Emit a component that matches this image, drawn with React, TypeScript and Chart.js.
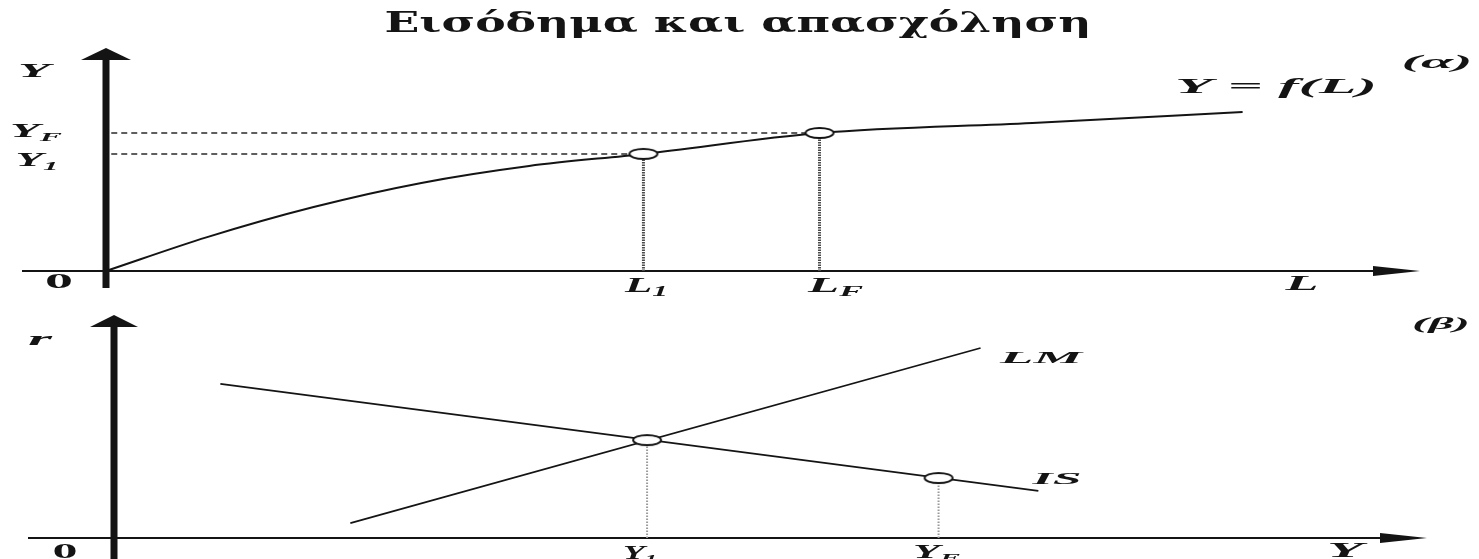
import React, { useEffect, useRef } from 'react';
import { Chart, registerables } from 'chart.js';

Chart.register(...registerables);

const CANVAS_W = 1479;
const TOP_H = 300;
const BOTTOM_H = 259;

// ---- Panel (α): production function Y = f(L) ----
const labourL = [0, 7.7, 15.8, 24.0, 32.2, 40.9, 54.3, 70.5, 86.5];
const outputY = [0, 15.2, 28.7, 39.5, 47.1, 52.5, 61.9, 66.4, 71.3];
const markerL = [40.9, 54.3]; // L1, LF
const markerY = [52.5, 61.9]; // Y1, YF
const topSubs = ['1', 'F'];

// ---- Panel (β): IS-LM ----
const isY = [8.1, 70.4];
const isR = [69.1, 21.1];
const lmY = [18.0, 66.0];
const lmR = [6.7, 85.2];
const pointY = [40.6, 62.8]; // Y1 (equilibrium), YF on IS
const pointR = [43.9, 26.9];
const bottomSubs = ['1', 'F'];

const AXIS_MAX = 100;
const INK = '#141414';

type Lbl = {
  t: string;
  sub?: string;
  cx: number;
  cy: number;
  size: number;
  w: number;
  italic?: boolean;
  bold?: boolean;
  family?: string;
};

function drawLbl(ctx: CanvasRenderingContext2D, l: Lbl) {
  const style = `${l.italic === false ? '' : 'italic '}${l.bold === false ? '' : 'bold '}`;
  const fam = l.family || '"Liberation Serif"';
  const mainFont = `${style}${l.size}px ${fam}`;
  const subFont = `${style}${Math.round(l.size * 0.68)}px ${fam}`;
  ctx.font = mainFont;
  const mw = ctx.measureText(l.t).width;
  let sw = 0;
  if (l.sub) {
    ctx.font = subFont;
    sw = ctx.measureText(l.sub).width;
  }
  const sx = l.w / (mw + sw);
  ctx.save();
  ctx.translate(l.cx - l.w / 2, l.cy + l.size * 0.33);
  ctx.scale(sx, 1);
  ctx.fillStyle = INK;
  ctx.textAlign = 'left';
  ctx.textBaseline = 'alphabetic';
  ctx.font = mainFont;
  ctx.fillText(l.t, 0, 0);
  if (l.sub) {
    ctx.font = subFont;
    ctx.fillText(l.sub, mw, l.size * 0.22);
  }
  ctx.restore();
}

function makeEllipse(w: number, h: number) {
  const c = document.createElement('canvas');
  c.width = w + 4;
  c.height = h + 4;
  const g = c.getContext('2d')!;
  g.beginPath();
  g.ellipse(c.width / 2, c.height / 2, w / 2, h / 2, 0, 0, Math.PI * 2);
  g.fillStyle = '#fff';
  g.fill();
  g.lineWidth = 1.9;
  g.strokeStyle = INK;
  g.stroke();
  return c;
}

type AxisSpec = {
  xStart: number;
  arrowBaseX: number;
  xLineW: number;
  stemW: number;
  stemBottom: number;
  headHalfW: number;
  headH: number;
  xHeadHalfH: number;
};

function drawAxes(chart: any, a: AxisSpec) {
  const ctx: CanvasRenderingContext2D = chart.ctx;
  const xs = chart.scales.x;
  const ys = chart.scales.y;
  const x0 = xs.getPixelForValue(0);
  const y0 = ys.getPixelForValue(0);
  const xEnd = xs.getPixelForValue(AXIS_MAX);
  const yTop = ys.getPixelForValue(AXIS_MAX);
  ctx.save();
  ctx.fillStyle = INK;
  ctx.strokeStyle = INK;
  // horizontal axis
  ctx.lineWidth = a.xLineW;
  ctx.beginPath();
  ctx.moveTo(a.xStart, y0);
  ctx.lineTo(a.arrowBaseX + 2, y0);
  ctx.stroke();
  ctx.beginPath();
  ctx.moveTo(a.arrowBaseX, y0 - a.xHeadHalfH);
  ctx.lineTo(xEnd, y0);
  ctx.lineTo(a.arrowBaseX, y0 + a.xHeadHalfH);
  ctx.closePath();
  ctx.fill();
  // vertical axis (thick stem + arrow head)
  ctx.fillRect(x0 - a.stemW / 2, yTop + a.headH - 1, a.stemW, a.stemBottom - (yTop + a.headH - 1));
  ctx.beginPath();
  ctx.moveTo(x0 - a.headHalfW, yTop + a.headH);
  ctx.lineTo(x0, yTop);
  ctx.lineTo(x0 + a.headHalfW, yTop + a.headH);
  ctx.closePath();
  ctx.fill();
  ctx.restore();
}

const baseOptions = (pad: any) => ({
  responsive: false,
  animation: false as const,
  devicePixelRatio: 1,
  layout: { padding: pad },
  scales: {
    x: { type: 'linear' as const, min: 0, max: AXIS_MAX, display: false },
    y: { type: 'linear' as const, min: 0, max: AXIS_MAX, display: false },
  },
  plugins: {
    legend: { display: false },
    tooltip: { enabled: false },
    title: { display: false },
  },
  elements: { line: { tension: 0 } },
});

export default function App() {
  const topRef = useRef<HTMLCanvasElement | null>(null);
  const botRef = useRef<HTMLCanvasElement | null>(null);

  useEffect(() => {
    const marker = makeEllipse(28, 10);

    // ---------- top chart ----------
    const topAxes = {
      id: 'topAxes',
      beforeDatasetsDraw(chart: any) {
        drawAxes(chart, {
          xStart: 22,
          arrowBaseX: 1373,
          xLineW: 2.2,
          stemW: 7,
          stemBottom: 288,
          headHalfW: 25,
          headH: 12,
          xHeadHalfH: 5,
        });
      },
      afterDatasetsDraw(chart: any) {
        const ctx = chart.ctx;
        const xs = chart.scales.x;
        const ys = chart.scales.y;
        const y0 = ys.getPixelForValue(0);
        // title
        drawLbl(ctx, {
          t: 'Εισόδημα και απασχόληση',
          cx: 738,
          cy: 23,
          size: 28,
          w: 707,
          italic: false,
          family: '"DejaVu Serif"',
        });
        const labels: Lbl[] = [
          { t: 'Y', cx: 34, cy: 71, size: 18, w: 32 },
          { t: 'Y', sub: topSubs[1], cx: 36, cy: ys.getPixelForValue(markerY[1]) - 2, size: 19, w: 52 },
          { t: 'Y', sub: topSubs[0], cx: 37, cy: ys.getPixelForValue(markerY[0]) + 6, size: 19, w: 43 },
          { t: '0', cx: 59, cy: y0 + 10, size: 22, w: 28, italic: false },
          { t: 'L', sub: topSubs[0], cx: xs.getPixelForValue(markerL[0]) + 3, cy: y0 + 14, size: 20, w: 43 },
          { t: 'L', sub: topSubs[1], cx: xs.getPixelForValue(markerL[1]) + 16, cy: y0 + 14, size: 20, w: 55 },
          { t: 'L', cx: 1302, cy: y0 + 12, size: 20, w: 33 },
          { t: 'Y = f(L)', cx: 1276, cy: 86, size: 20, w: 202 },
          { t: '(α)', cx: 1437, cy: 62, size: 18, w: 71 },
        ];
        labels.forEach((l) => drawLbl(ctx, l));
      },
    };

    const topChart = new Chart(topRef.current!, {
      type: 'scatter',
      data: {
        datasets: [
          {
            data: markerL.map((x, i) => ({ x, y: markerY[i] })),
            pointStyle: marker as any,
            pointRadius: 6,
            showLine: false,
            clip: false as any,
          },
          {
            data: labourL.map((x, i) => ({ x, y: outputY[i] })),
            showLine: true,
            borderColor: INK,
            borderWidth: 2,
            pointRadius: 0,
            cubicInterpolationMode: 'monotone' as const,
            clip: false as any,
          },
          ...markerL.map((x, i) => ({
            data: [
              { x: 0.4, y: markerY[i] },
              { x, y: markerY[i] },
            ],
            showLine: true,
            borderColor: '#2a2a2a',
            borderWidth: 1.4,
            borderDash: [6, 4],
            pointRadius: 0,
          })),
          ...markerL.map((x, i) => ({
            data: [
              { x, y: 0 },
              { x, y: markerY[i] - 2.2 },
            ],
            showLine: true,
            borderColor: '#4a4a4a',
            borderWidth: 3,
            borderDash: [1.5, 1],
            pointRadius: 0,
          })),
        ],
      },
      options: baseOptions({ left: 106, right: CANVAS_W - 1420, top: 48, bottom: TOP_H - 271 }) as any,
      plugins: [topAxes],
    });

    // ---------- bottom chart ----------
    const botAxes = {
      id: 'botAxes',
      beforeDatasetsDraw(chart: any) {
        drawAxes(chart, {
          xStart: 28,
          arrowBaseX: 1380,
          xLineW: 2.2,
          stemW: 7,
          stemBottom: BOTTOM_H,
          headHalfW: 24,
          headH: 12,
          xHeadHalfH: 5,
        });
      },
      afterDatasetsDraw(chart: any) {
        const ctx = chart.ctx;
        const xs = chart.scales.x;
        const ys = chart.scales.y;
        const y0 = ys.getPixelForValue(0);
        const labels: Lbl[] = [
          { t: 'r', cx: 40, cy: 39, size: 18, w: 24 },
          { t: '0', cx: 65, cy: y0 + 13, size: 20, w: 25, italic: false },
          { t: 'Y', sub: bottomSubs[0], cx: xs.getPixelForValue(pointY[0]) - 7, cy: y0 + 15, size: 19, w: 34 },
          { t: 'Y', sub: bottomSubs[1], cx: xs.getPixelForValue(pointY[1]) - 2, cy: y0 + 14, size: 19, w: 47 },
          { t: 'LM', cx: 1041, cy: 57, size: 17, w: 82 },
          { t: 'IS', cx: 1057, cy: 178, size: 17, w: 49 },
          { t: 'Y', cx: 1345, cy: y0 + 12, size: 20, w: 36 },
          { t: '(β)', cx: 1441, cy: 23, size: 17, w: 58 },
        ];
        labels.forEach((l) => drawLbl(ctx, l));
      },
    };

    const botChart = new Chart(botRef.current!, {
      type: 'scatter',
      data: {
        datasets: [
          {
            data: pointY.map((x, i) => ({ x, y: pointR[i] })),
            pointStyle: marker as any,
            pointRadius: 6,
            showLine: false,
            clip: false as any,
          },
          {
            data: isY.map((x, i) => ({ x, y: isR[i] })),
            showLine: true,
            borderColor: INK,
            borderWidth: 1.8,
            pointRadius: 0,
          },
          {
            data: lmY.map((x, i) => ({ x, y: lmR[i] })),
            showLine: true,
            borderColor: INK,
            borderWidth: 1.8,
            pointRadius: 0,
          },
          ...pointY.map((x, i) => ({
            data: [
              { x, y: 0 },
              { x, y: pointR[i] - 2.5 },
            ],
            showLine: true,
            borderColor: '#9a9a9a',
            borderWidth: 2,
            borderDash: [1.5, 1.5],
            pointRadius: 0,
          })),
        ],
      },
      options: baseOptions({ left: 114, right: CANVAS_W - 1427, top: 15, bottom: BOTTOM_H - 238 }) as any,
      plugins: [botAxes],
    });

    return () => {
      topChart.destroy();
      botChart.destroy();
    };
  }, []);

  return (
    <div
      style={{
        position: 'absolute',
        left: 0,
        top: 0,
        width: CANVAS_W,
        height: TOP_H + BOTTOM_H,
        background: '#fff',
        overflow: 'hidden',
      }}
    >
      <canvas
        ref={topRef}
        width={CANVAS_W}
        height={TOP_H}
        style={{ position: 'absolute', left: 0, top: 0, width: CANVAS_W, height: TOP_H }}
      />
      <canvas
        ref={botRef}
        width={CANVAS_W}
        height={BOTTOM_H}
        style={{ position: 'absolute', left: 0, top: TOP_H, width: CANVAS_W, height: BOTTOM_H }}
      />
    </div>
  );
}
